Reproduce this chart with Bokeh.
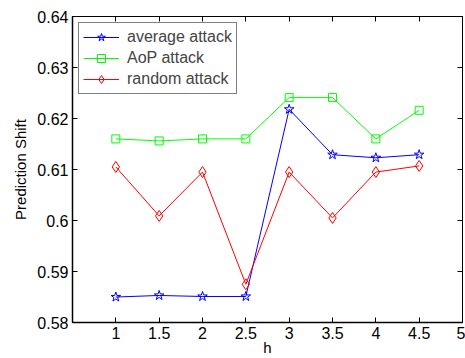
from bokeh.plotting import figure
from bokeh.models import FixedTicker, LinearAxis, Range1d, CustomJSTickFormatter
from bokeh.embed import file_html
from bokeh.resources import INLINE

h = [1, 1.5, 2, 2.5, 3, 3.5, 4, 4.5]
average_attack = [0.5850, 0.5853, 0.5851, 0.5851, 0.6218, 0.6129, 0.6123, 0.6129]
aop_attack = [0.6160, 0.6156, 0.6160, 0.6160, 0.6241, 0.6241, 0.6160, 0.6216]
random_attack = [0.6105, 0.6009, 0.6095, 0.5875, 0.6095, 0.6005, 0.6095, 0.6107]
x_ticks = [1, 1.5, 2, 2.5, 3, 3.5, 4, 4.5, 5]
y_ticks = [0.58, 0.59, 0.60, 0.61, 0.62, 0.63, 0.64]
y_tick_labels = {0.58: "0.58", 0.59: "0.59", 0.6: "0.6", 0.61: "0.61", 0.62: "0.62", 0.63: "0.63", 0.64: "0.64"}

FONT = "Liberation Sans"

p = figure(width=465, height=358, output_backend="svg", toolbar_location=None,
           x_range=Range1d(0.5, 5), y_range=Range1d(0.58, 0.64),
           min_border_left=72, min_border_top=16, min_border_right=3, min_border_bottom=36)
p.background_fill_color = "white"
p.border_fill_color = "white"
p.outline_line_color = "black"
p.outline_line_width = 1
p.grid.visible = False

p.xaxis.ticker = FixedTicker(ticks=x_ticks)
p.yaxis.ticker = FixedTicker(ticks=y_ticks)
p.yaxis.major_label_overrides = y_tick_labels
p.xaxis.axis_label = "h"
p.yaxis.axis_label = "Prediction Shift"
for ax in [p.xaxis[0], p.yaxis[0]]:
    ax.major_tick_in = 5
    ax.major_tick_out = 0
    ax.minor_tick_line_color = None
    ax.major_label_text_font = FONT
    ax.major_label_text_font_size = "16px"
    ax.major_label_text_color = "black"
    ax.axis_label_text_font = FONT
    ax.axis_label_text_font_size = "15px"
    ax.axis_label_text_font_style = "normal"
    ax.axis_label_text_color = "black"
    ax.axis_line_color = "black"
    ax.axis_line_width = 1.5
    ax.major_tick_line_color = "black"
p.xaxis.axis_label_standoff = -3
p.yaxis.axis_label_standoff = 5
p.xaxis.major_label_standoff = 4
p.yaxis.major_label_standoff = 4

blank = CustomJSTickFormatter(code="return ''")
top = LinearAxis(ticker=FixedTicker(ticks=x_ticks), formatter=blank,
                 major_tick_in=5, major_tick_out=0, minor_tick_line_color=None,
                 major_label_standoff=0)
right = LinearAxis(ticker=FixedTicker(ticks=y_ticks), formatter=blank,
                   major_tick_in=5, major_tick_out=0, minor_tick_line_color=None,
                   major_label_standoff=0)
p.add_layout(top, "above")
p.add_layout(right, "right")

series = [
    (average_attack, "#0000ff", "star", 10, "average attack"),
    (aop_attack, "#00ff00", "square", 8, "AoP attack"),
    (random_attack, "#ff0000", "diamond", 11, "random attack"),
]
for ys, col, mk, sz, lab in series:
    p.line(h, ys, line_color=col, line_width=1, legend_label=lab)
    p.scatter(h, ys, marker=mk, size=sz, line_color=col, fill_color=None, line_width=1, legend_label=lab)

p.legend.location = "top_left"
p.legend.margin = 6
p.legend.border_line_color = "black"
p.legend.border_line_width = 1.5
p.legend.label_text_font = FONT
p.legend.label_text_font_size = "16px"
p.legend.glyph_width = 36
p.legend.glyph_height = 20
p.legend.label_height = 20
p.legend.spacing = 1
p.legend.padding = 4
p.legend.label_standoff = 8
p.legend.background_fill_alpha = 1

open("out.html", "w").write(file_html(p, INLINE))
